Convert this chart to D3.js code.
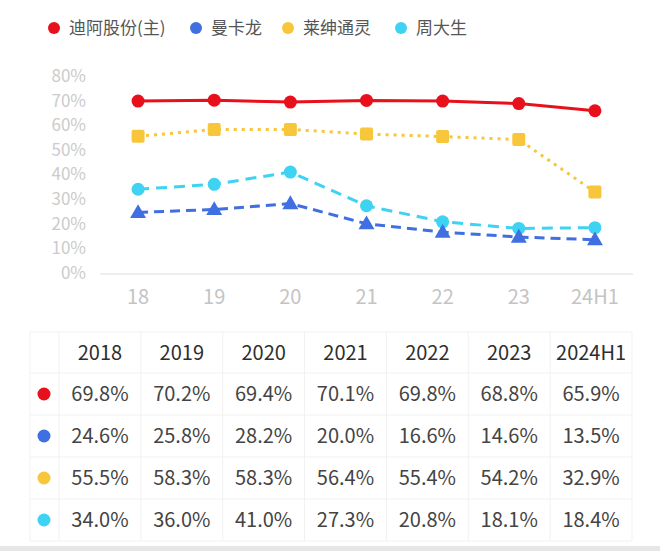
<!DOCTYPE html>
<html lang="zh">
<head>
<meta charset="utf-8">
<title>毛利率对比</title>
<script src="https://d3js.org/d3.v7.min.js"></script>
<style>
body { margin: 0; background: #fff; }
svg text { font-family: "Noto Sans CJK SC", "Noto Sans", sans-serif; }
</style>
</head>
<body>
<svg id="chart" width="660" height="551"></svg>
<script>
// data
var years = ["18", "19", "20", "21", "22", "23", "24H1"];
var tableYears = ["2018", "2019", "2020", "2021", "2022", "2023", "2024H1"];
var names = ["迪阿股份(主)", "曼卡龙", "莱绅通灵", "周大生"];
var diaValues = [69.8, 70.2, 69.4, 70.1, 69.8, 68.8, 65.9];
var mankalongValues = [24.6, 25.8, 28.2, 20.0, 16.6, 14.6, 13.5];
var laishenValues = [55.5, 58.3, 58.3, 56.4, 55.4, 54.2, 32.9];
var zhoudashengValues = [34.0, 36.0, 41.0, 27.3, 20.8, 18.1, 18.4];
var yTicks = [0, 10, 20, 30, 40, 50, 60, 70, 80];

var colors = ["#e8101a", "#3f6fe0", "#f8c63a", "#3ed2f3"];
var series = [
    {name: names[0], values: diaValues, color: colors[0], dash: null, marker: "circle"},
    {name: names[1], values: mankalongValues, color: colors[1], dash: "10,6", marker: "triangle"},
    {name: names[2], values: laishenValues, color: colors[2], dash: "3,5", marker: "square"},
    {name: names[3], values: zhoudashengValues, color: colors[3], dash: "11,7", marker: "circle"}
];

var svg = d3.select("#chart");

// legend
var legendX = [54, 196, 288, 401];
var legend = svg.append("g");
series.forEach(function(s, i) {
    legend.append("circle")
        .attr("cx", legendX[i]).attr("cy", 28).attr("r", 6)
        .attr("fill", s.color);
    legend.append("text")
        .attr("x", legendX[i] + 15).attr("y", 28)
        .attr("dy", "0.35em")
        .attr("font-size", 17)
        .attr("fill", "#555")
        .text(s.name);
});

// scales
var x = d3.scalePoint()
    .domain(years)
    .range([100, 633])
    .padding(0.5);

var y = d3.scaleLinear()
    .domain([0, 80])
    .range([273, 76]);

// y axis labels
svg.append("g")
    .selectAll("text")
    .data(yTicks)
    .enter().append("text")
    .attr("x", 86)
    .attr("y", function(d) { return y(d); })
    .attr("dy", "0.35em")
    .attr("text-anchor", "end")
    .attr("font-size", 17)
    .attr("fill", "#cbcbcb")
    .text(function(d) { return d + "%"; });

// x axis line + labels
svg.append("line")
    .attr("x1", 100).attr("x2", 633)
    .attr("y1", y(0) + 1).attr("y2", y(0) + 1)
    .attr("stroke", "#e8e8e8").attr("stroke-width", 1.5);

svg.append("g")
    .selectAll("text")
    .data(years)
    .enter().append("text")
    .attr("x", function(d) { return x(d); })
    .attr("y", 297)
    .attr("dy", "0.35em")
    .attr("text-anchor", "middle")
    .attr("font-size", 20)
    .attr("fill", "#c4c4c4")
    .text(function(d) { return d; });

// lines
var line = d3.line()
    .x(function(d, i) { return x(years[i]); })
    .y(function(d) { return y(d); });

var order = [2, 3, 1, 0];
order.forEach(function(k) {
    var s = series[k];
    svg.append("path")
        .datum(s.values)
        .attr("d", line)
        .attr("fill", "none")
        .attr("stroke", s.color)
        .attr("stroke-width", 3)
        .attr("stroke-dasharray", s.dash);

    var pts = svg.append("g").selectAll(".pt")
        .data(s.values)
        .enter();
    if (s.marker == "circle") {
        pts.append("circle")
            .attr("cx", function(d, i) { return x(years[i]); })
            .attr("cy", function(d) { return y(d); })
            .attr("r", 6.5)
            .attr("fill", s.color);
    } else if (s.marker == "square") {
        pts.append("rect")
            .attr("x", function(d, i) { return x(years[i]) - 6.5; })
            .attr("y", function(d) { return y(d) - 6.5; })
            .attr("width", 13).attr("height", 13)
            .attr("rx", 2)
            .attr("fill", s.color);
    } else {
        pts.append("path")
            .attr("transform", function(d, i) { return "translate(" + x(years[i]) + "," + (y(d) + 1) + ")"; })
            .attr("d", d3.symbol().type(d3.symbolTriangle).size(110))
            .attr("fill", s.color);
    }
});

// table
var tableTop = 332, headH = 41, rowH = 42;
var colX = d3.scaleBand()
    .domain(tableYears)
    .range([59, 632]);
var grid = "#f1f1f1";
var tbl = svg.append("g");

var nRows = series.length;
var tableBottom = tableTop + headH + rowH * nRows;

// borders
tbl.append("line")
    .attr("x1", 30).attr("x2", 632)
    .attr("y1", tableTop).attr("y2", tableTop)
    .attr("stroke", grid);
d3.range(nRows + 1).forEach(function(r) {
    var yy = tableTop + headH + r * rowH;
    tbl.append("line")
        .attr("x1", 30).attr("x2", 632)
        .attr("y1", yy).attr("y2", yy)
        .attr("stroke", grid);
});
[30].concat(tableYears.map(function(d) { return colX(d); })).concat([632]).forEach(function(xx) {
    tbl.append("line")
        .attr("x1", xx).attr("x2", xx)
        .attr("y1", tableTop).attr("y2", tableBottom)
        .attr("stroke", grid);
});

// header
tbl.selectAll(".hd")
    .data(tableYears)
    .enter().append("text")
    .attr("x", function(d) { return colX(d) + colX.bandwidth() / 2; })
    .attr("y", tableTop + headH / 2)
    .attr("dy", "0.35em")
    .attr("text-anchor", "middle")
    .attr("font-size", 20)
    .attr("font-weight", 400)
    .attr("fill", "#2e2e2e")
    .text(function(d) { return d; });

var fmt = d3.format(".1f");
series.forEach(function(s, r) {
    var cy = tableTop + headH + r * rowH + rowH / 2;
    tbl.append("circle")
        .attr("cx", 44).attr("cy", cy).attr("r", 6.5)
        .attr("fill", s.color);
    tbl.append("g").selectAll("text")
        .data(s.values)
        .enter().append("text")
        .attr("x", function(d, i) { return colX(tableYears[i]) + colX.bandwidth() / 2; })
        .attr("y", cy)
        .attr("dy", "0.35em")
        .attr("text-anchor", "middle")
        .attr("font-size", 20)
        .attr("fill", "#444")
        .text(function(d) { return fmt(d) + "%"; });
});

// bottom edge
svg.append("rect")
    .attr("x", 0).attr("y", 546)
    .attr("width", 660).attr("height", 5)
    .attr("fill", "#e6e6e6");
</script>
</body>
</html>
